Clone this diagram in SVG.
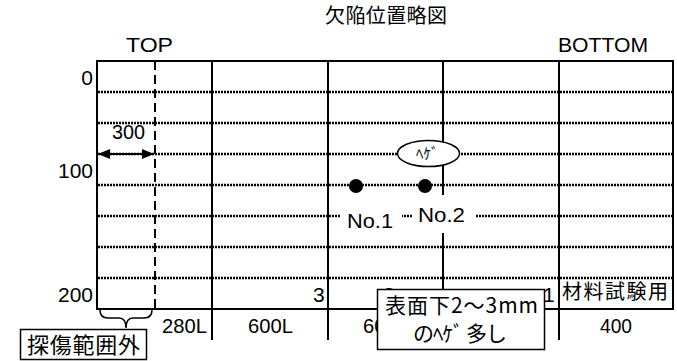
<svg xmlns="http://www.w3.org/2000/svg" width="677" height="361" viewBox="0 0 677 361">
<style>
.ln{stroke:#000;stroke-width:2;fill:none}
.dot{stroke:#000;stroke-width:2.4;stroke-dasharray:2 1;fill:none}
.dash{stroke:#000;stroke-width:2;stroke-dasharray:9 5;fill:none}
.t{font-family:"Liberation Sans",Arial,sans-serif;font-size:21px;fill:#000}
.j{font-family:"Noto Sans CJK JP","Liberation Sans",sans-serif;fill:#000}
.box{fill:#fff;stroke:#000;stroke-width:1.5}
</style>
<defs>
<marker id="ah" viewBox="0 0 12 10" refX="11" refY="5" markerWidth="12" markerHeight="10" markerUnits="userSpaceOnUse" orient="auto-start-reverse">
<path d="M0,0 L12,5 L0,10 z" fill="#000"/>
</marker>
<clipPath id="cl"><rect x="330" y="310" width="47" height="30"/></clipPath>
<clipPath id="ct"><rect x="370" y="270" width="40" height="19"/></clipPath>
</defs>
<rect width="677" height="361" fill="#fff"/>
<text class="j" x="325" y="23" font-size="20" textLength="122">欠陥位置略図</text>
<text class="t" x="126" y="52" textLength="47" lengthAdjust="spacingAndGlyphs">TOP</text>
<text class="t" x="558" y="52" textLength="90" lengthAdjust="spacingAndGlyphs">BOTTOM</text>
<text class="t" x="93" y="85" text-anchor="end">0</text>
<text class="t" x="93" y="178" text-anchor="end" textLength="35" lengthAdjust="spacingAndGlyphs">100</text>
<text class="t" x="93" y="302" text-anchor="end" textLength="35" lengthAdjust="spacingAndGlyphs">200</text>
<g id="grid">
<path class="dot" d="M98,92H673M98,123H673M98,154H673M98,185H673M98,216H673M98,247H673M98,278H673"/>
<path class="ln" d="M97,61H673V309H97Z"/>
<path class="ln" d="M212,61V340M328,61V340M443,61V309M559,61V340"/>
<path class="dash" d="M155,61V309"/>
</g>
<rect x="341" y="201" width="61" height="34" fill="#fff"/>
<rect x="413" y="195" width="63" height="38" fill="#fff"/>
<g id="labels">
<text class="t" x="112" y="139" textLength="33" lengthAdjust="spacingAndGlyphs">300</text>
<text class="t" x="162" y="333" textLength="45" lengthAdjust="spacingAndGlyphs">280L</text>
<text class="t" x="248" y="333" textLength="45" lengthAdjust="spacingAndGlyphs">600L</text>
<text class="t" x="363" y="333" textLength="45" lengthAdjust="spacingAndGlyphs" clip-path="url(#cl)">600L</text>
<text class="t" x="600" y="333" textLength="32" lengthAdjust="spacingAndGlyphs">400</text>
<text class="t" x="313" y="302">3</text>
<text class="t" x="383" y="302" clip-path="url(#ct)">2</text>
<text class="t" x="543" y="302">1</text>
<text class="j" x="562" y="299" font-size="20" textLength="106">材料試験用</text>
</g>
<g id="connectors">
<line class="ln" x1="99" y1="154" x2="153" y2="154" marker-start="url(#ah)" marker-end="url(#ah)"/>
</g>
<g id="defect-no1">
<circle cx="356" cy="186" r="7" fill="#000"/>
<text class="t" x="347" y="228" font-size="22" textLength="46" lengthAdjust="spacingAndGlyphs">No.1</text>
</g>
<g id="defect-no2">
<circle cx="425" cy="186" r="7" fill="#000"/>
<text class="t" x="418" y="222" font-size="22" textLength="47" lengthAdjust="spacingAndGlyphs">No.2</text>
</g>
<g id="hege">
<ellipse cx="428.5" cy="153.5" rx="31" ry="13" fill="#fff" stroke="#000" stroke-width="1.5"/>
<text class="j" x="416" y="159" font-size="15">ﾍｹﾞ</text>
</g>
<g id="out-of-range">
<path d="M100,310 Q100,318 108,318 L119,318 Q126,318 126,328 Q126,318 133,318 L144,318 Q152,318 152,310" fill="none" stroke="#000" stroke-width="1.5"/>
<rect class="box" x="20.5" y="329.5" width="126" height="30"/>
<text class="j" x="27" y="353" font-size="22" textLength="113">探傷範囲外</text>
</g>
<g id="note">
<rect class="box" x="377.5" y="289.5" width="167" height="60"/>
<text class="j" x="385" y="313" font-size="21" textLength="153">表面下2～3mm</text>
<text class="j" x="413" y="341" font-size="21" textLength="94">のﾍｹﾞ 多し</text>
</g>
</svg>
